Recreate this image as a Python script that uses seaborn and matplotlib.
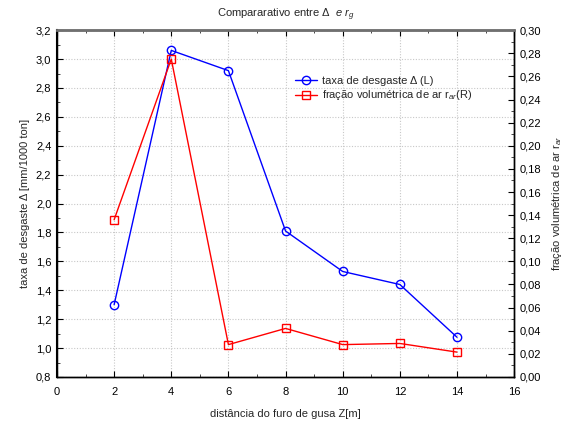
import numpy as np
import pandas as pd
import matplotlib
matplotlib.use("Agg")
import matplotlib.pyplot as plt
import seaborn as sns
from matplotlib.ticker import FuncFormatter, MultipleLocator

z = [2, 4, 6, 8, 10, 12, 14]
taxa = [1.30, 3.06, 2.92, 1.81, 1.53, 1.44, 1.075]
fracao = [0.136, 0.275, 0.028, 0.042, 0.028, 0.029, 0.0215]

sns.set_style("white")
plt.rcParams['font.family'] = ['Liberation Sans', 'DejaVu Sans']
plt.rcParams['font.size'] = 8
plt.rcParams['mathtext.fontset'] = 'custom'
plt.rcParams['mathtext.it'] = 'Liberation Sans:italic'
plt.rcParams['mathtext.rm'] = 'Liberation Sans'

df = pd.DataFrame({"z": z, "taxa": taxa, "fracao": fracao})

fig = plt.figure(figsize=(5.79, 4.25), dpi=100)
ax = fig.add_axes([0.0984, 0.113, 0.7896, 0.816])
ax2 = ax.twinx()

sns.lineplot(data=df, x="z", y="taxa", ax=ax, color="#0000ff", lw=1.0,
             marker="o", markersize=6, markerfacecolor="none",
             markeredgecolor="#0000ff", markeredgewidth=1.0,
             label="taxa de desgaste Δ (L)", legend=False)
sns.lineplot(data=df, x="z", y="fracao", ax=ax2, color="#ff0000", lw=1.0,
             marker="s", markersize=6, markerfacecolor="none",
             markeredgecolor="#ff0000", markeredgewidth=1.0,
             label="fração volumétrica de ar r$_{ar}$(R)", legend=False)

ax.set_xlim(0, 16)
ax.set_ylim(0.8, 3.2)
ax2.set_ylim(0.0, 0.30)
ax.xaxis.set_major_locator(MultipleLocator(2))
ax.xaxis.set_minor_locator(MultipleLocator(1))
ax.yaxis.set_major_locator(MultipleLocator(0.2))
ax.yaxis.set_minor_locator(MultipleLocator(0.1))
ax2.yaxis.set_major_locator(MultipleLocator(0.02))
ax2.yaxis.set_minor_locator(MultipleLocator(0.01))

ax.yaxis.set_major_formatter(FuncFormatter(lambda v, p: f"{v:.1f}".replace(".", ",")))
ax2.yaxis.set_major_formatter(FuncFormatter(lambda v, p: f"{v:.2f}".replace(".", ",")))
ax.xaxis.set_major_formatter(FuncFormatter(lambda v, p: f"{v:.0f}"))

ax.grid(True, which="major", linestyle=(0, (1, 1.5)), color="#c8c8c8", lw=0.8)
ax.set_axisbelow(True)

for a in (ax, ax2):
    a.tick_params(which="major", direction="in", length=4, width=0.8, colors="black",
                  labelsize=8, pad=4)
    a.tick_params(which="minor", direction="in", length=2, width=0.6)
    for s in a.spines.values():
        s.set_linewidth(1.0)
        s.set_color("black")
ax.tick_params(axis="x", which="both", bottom=True, top=True, pad=7)
ax.tick_params(axis="y", which="both", left=True)
ax2.tick_params(axis="y", which="both", right=True)
ax2.spines["top"].set_color("#707070")
ax2.spines["top"].set_linewidth(2.0)
ax2.spines["left"].set_linewidth(1.5)

ax.set_xlabel("distância do furo de gusa Z[m]", fontsize=8, labelpad=9)
ax.set_ylabel("taxa de desgaste Δ [mm/1000 ton]", fontsize=8, labelpad=4)
ax2.set_ylabel("fração volumétrica de ar r$_{ar}$", fontsize=8, labelpad=6)
ax.set_title("Compararativo entre Δ  $e$ $r_g$", fontsize=8, pad=9)

h1, l1 = ax.get_legend_handles_labels()
h2, l2 = ax2.get_legend_handles_labels()
ax.legend(h1 + h2, l1 + l2, loc="upper left", bbox_to_anchor=(0.51, 0.88),
          frameon=False, fontsize=8, handlelength=2.0, handletextpad=0.5,
          labelspacing=0.2, borderaxespad=0)

fig.savefig("out.png", dpi=100)
